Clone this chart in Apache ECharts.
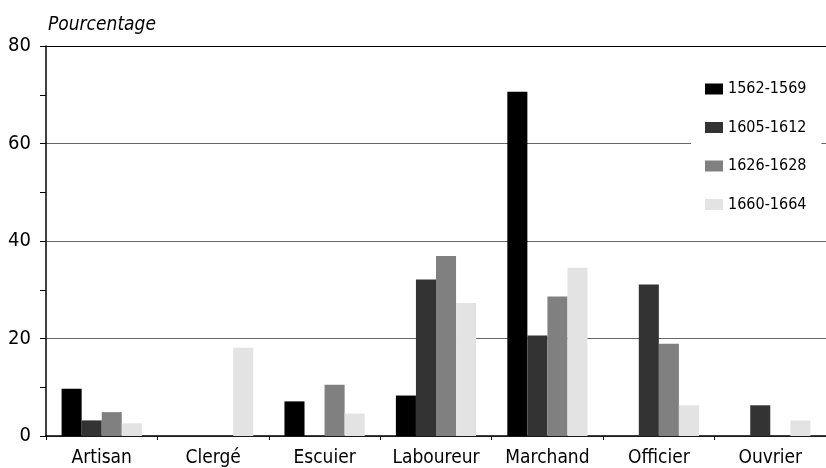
<!DOCTYPE html>
<html>
<head>
<meta charset="utf-8">
<script src="https://cdn.jsdelivr.net/npm/echarts@6/dist/echarts.min.js"></script>
<style>
  html, body { margin: 0; padding: 0; background: #fff; }
  #chart { width: 826px; height: 468px; }
</style>
</head>
<body>
<div id="chart"></div>
<script>
// catégories et pourcentages par période
const categories = ['Artisan', 'Clergé', 'Escuier', 'Laboureur', 'Marchand', 'Officier', 'Ouvrier']
const periods = ['1562-1569', '1605-1612', '1626-1628', '1660-1664']
const p1562 = [9.7, 0, 7.1, 8.3, 70.6, 0, 0]
const p1605 = [3.2, 0, 0, 32.1, 20.6, 31.1, 6.3]
const p1626 = [4.9, 0, 10.5, 36.9, 28.6, 18.9, 0]
const p1660 = [2.6, 18.1, 4.6, 27.3, 34.5, 6.3, 3.2]
const colors = ['#000000', '#333333', '#808080', '#e3e3e3']

const font = "'Liberation Sans Narrow', 'Arial Narrow', 'DejaVu Sans Condensed', sans-serif"
const chart = echarts.init(document.getElementById('chart'))

const values = [p1562, p1605, p1626, p1660]
const series = periods.map((name, i) => ({
  name: name,
  type: 'bar',
  data: values[i],
  barGap: '0%',
  barCategoryGap: '28%',
  itemStyle: { color: colors[i] }
}))

chart.setOption({
  animation: false,
  textStyle: { fontFamily: font },
  title: {
    text: 'Pourcentage',
    left: 48,
    top: 16,
    padding: 0,
    textStyle: { fontFamily: font, fontStyle: 'italic', fontWeight: 'normal', fontSize: 19, color: '#000' }
  },
  legend: {
    orient: 'vertical',
    left: 691,
    top: 71,
    padding: [10, 15, 10, 14],
    backgroundColor: '#fff',
    itemWidth: 18,
    itemHeight: 11,
    itemGap: 22.5,
    icon: 'rect',
    data: periods,
    textStyle: { fontFamily: font, fontSize: 16, color: '#000', padding: [2, 0, 0, 0] }
  },
  grid: { left: 46, top: 46, width: 786, bottom: 28 },
  xAxis: {
    type: 'category',
    data: categories,
    axisLine: { lineStyle: { color: '#000', width: 1.5 } },
    axisTick: { show: true, length: 4, lineStyle: { color: '#000' } },
    axisLabel: { interval: 0, fontFamily: font, fontSize: 19, color: '#000', margin: 13 }
  },
  yAxis: {
    type: 'value',
    min: 0,
    max: 80,
    interval: 20,
    axisLine: { show: true, lineStyle: { color: '#000', width: 1.5 } },
    axisTick: { show: true, length: 6, lineStyle: { color: '#000' } },
    minorTick: { show: true, splitNumber: 2, length: 6, lineStyle: { color: '#000' } },
    splitLine: { show: true, lineStyle: { color: ['#666', '#666', '#666', '#666', '#000'], width: 1 } },
    axisLabel: { fontFamily: font, fontSize: 20, color: '#000', margin: 15, padding: [0, 0, 12, 0] }
  },
  series: series
})
</script>
</body>
</html>
